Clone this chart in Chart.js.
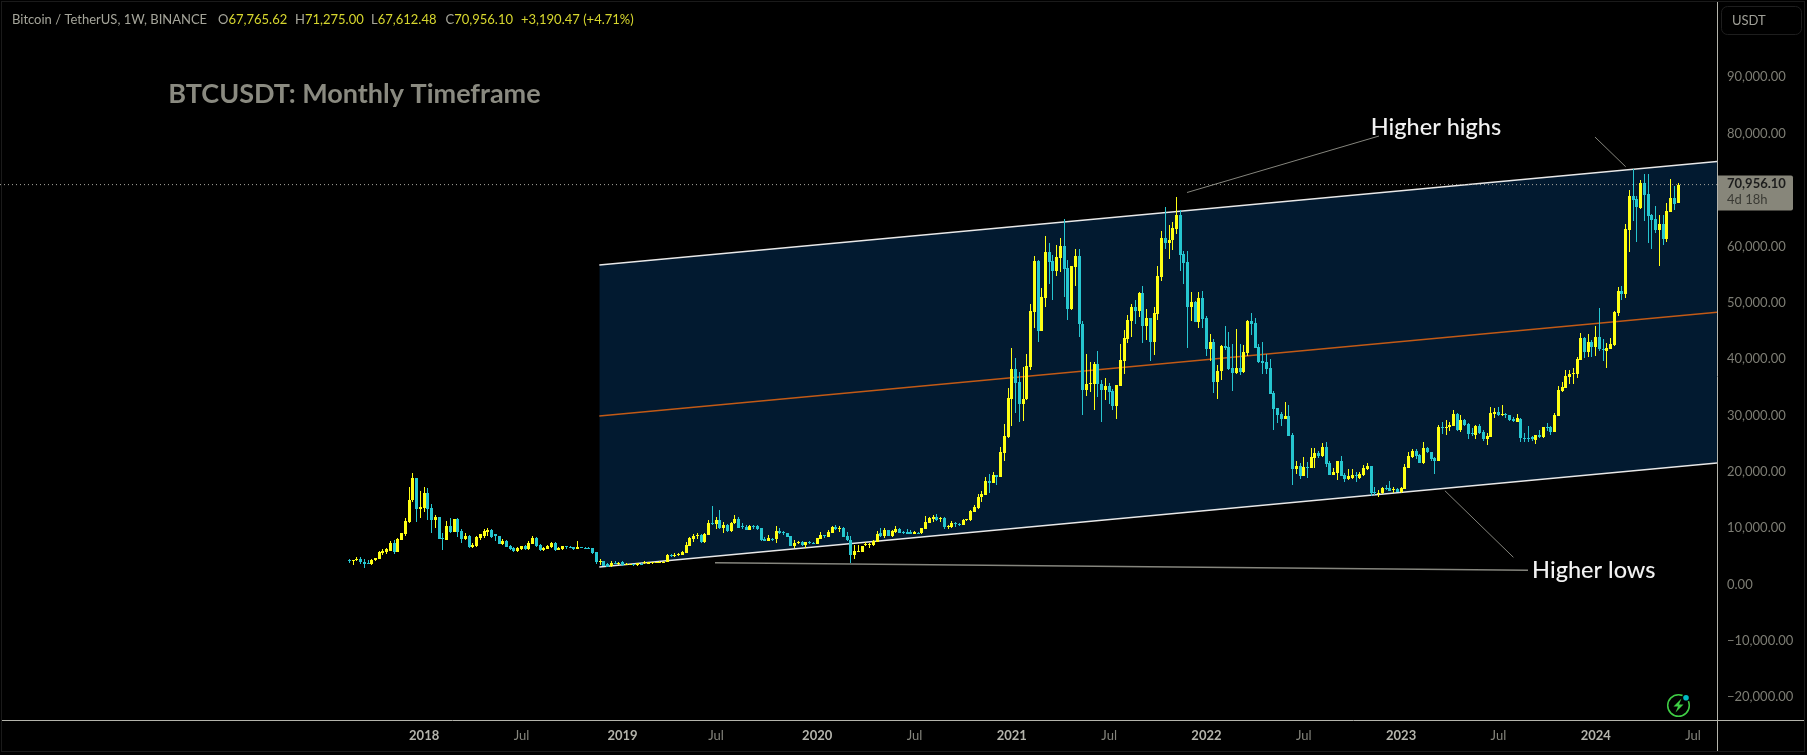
<!DOCTYPE html>
<html>
<head>
<meta charset="utf-8">
<title>BTCUSDT</title>
<script src="https://cdn.jsdelivr.net/npm/chart.js@4"></script>
<style>
  html, body { margin: 0; padding: 0; background: #000; overflow: hidden; }
  #wrap { position: absolute; left: 0; top: 0; width: 1807px; height: 755px; }
</style>
</head>
<body>
<div id="wrap"><canvas id="chart"></canvas></div>
<script>
// weekly candles, first bar is the week of 14 Aug 2017
const opens = [
  4300,4100,4300,4600,4040,3750,3650,4270,4570,5630,
  5700,5870,7350,5750,7880,8950,11080,14980,18830,13400,
  13500,16170,13500,11430,11910,8200,7880,10370,9360,11610,
  9480,8000,8590,6600,6820,8180,8590,9300,9660,8890,
  8590,7200,7710,6820,6460,5930,6290,6820,6290,7170,
  8240,7000,6170,6350,6640,7350,6110,6230,6820,6600,
  6640,6290,6640,6520,6500,6460,5750,3980,4100,3600,
  3200,3900,3700,3980,3550,3550,3620,3400,3680,3740,
  3680,3800,3880,3950,3980,4040,5220,5050,5220,5300,
  5600,6820,8100,8600,8800,7530,8800,10840,10700,11430,
  10000,10550,9480,10840,11610,10300,10130,9660,10310,10310,
  10020,8130,7770,8130,8000,9490,9250,9130,8600,6880,
  7360,7590,6940,7470,7420,7180,8070,8780,8480,9190,
  10200,9900,10000,8600,7950,5290,5760,5760,6950,6950,
  7000,7600,9070,8600,9660,8600,9310,9840,9310,9310,
  9250,9010,9190,9070,9840,10970,11620,11910,11680,11850,
  10260,10200,10970,10770,10550,11440,11440,12860,13600,15460,
  15870,18360,18000,19420,19070,23300,26200,32900,38240,35900,
  32000,33000,38600,48400,57400,45000,50900,59000,57400,55600,
  58000,60000,56100,48900,56400,58300,46300,34500,35600,35600,
  39100,35500,34500,35200,34300,31600,35200,39600,43500,46700,
  49200,48500,51700,45900,47200,43000,48000,54500,61500,60600,
  61100,63070,65560,58600,57200,49200,50100,46600,50800,47300,
  41800,43000,36000,37800,42300,42100,38400,37500,38400,37700,
  41000,46700,46400,42100,39600,39500,38400,34000,31300,30240,
  29350,29880,26510,20480,21010,19230,20830,20650,22430,23320,
  22780,24380,21540,19410,19770,21900,19410,18700,18880,19400,
  18880,19350,20480,21010,16390,16040,16220,17100,17100,16750,
  16930,16390,16930,20650,22610,23670,22960,21540,24200,23490,
  22430,21900,27930,27750,27930,28110,30240,27400,29170,28460,
  26800,26510,28110,27040,25740,26160,30240,30600,30060,30240,
  30060,29350,28820,29350,25980,25980,26100,25620,26510,26160,
  27930,27930,27040,29880,34320,34850,36800,37340,37340,39800,
  43700,41200,43000,42100,43900,41850,41450,41800,42500,48100,
  52000,51500,62900,68900,68400,66800,71200,69300,65500,64840,
  62900,63950,61300,66100,68600,67765.62
];
const highs = [
  4570,4400,4900,4850,4500,4300,4450,4750,5930,6230,
  6400,7650,7880,8180,9190,11730,17300,19720,18950,16580,
  17230,17200,14200,12320,11950,9070,11260,11730,11700,11730,
  9780,9070,8700,7410,8600,8950,9840,9950,9780,9010,
  8650,8000,7830,7050,6600,6700,6900,6950,7710,8590,
  8400,7100,6700,7000,7500,7530,6600,6850,6850,6750,
  6700,7710,6700,6600,6600,6500,5800,4510,4250,3750,
  4160,4250,4050,4100,3750,3720,3700,3850,3750,4200,
  3950,4000,4050,4100,4150,5350,5500,5600,5600,6000,
  7470,8420,9050,9100,9000,9070,11430,13900,11900,13200,
  11020,10700,11100,12320,11950,10850,10500,10500,10500,10500,
  10100,8400,8780,8300,10370,10080,9550,9200,8650,7890,
  7710,7650,7600,7650,7500,8300,9370,8850,9660,10300,
  10550,10400,10200,9310,8600,6990,6990,6900,7600,7400,
  7890,9490,10080,10020,9720,9650,10370,10080,9550,9840,
  9600,9490,9300,10020,12150,11980,12270,12500,12000,12030,
  10600,11260,11080,10900,11600,11700,13200,14100,16050,16590,
  19070,19600,19950,19420,24400,28500,34900,41960,40200,37700,
  38600,40900,49800,58300,57500,52600,61800,60600,58500,60200,
  61500,64850,57600,56600,59500,59500,46700,40900,39400,39400,
  41400,36270,36700,35680,34670,35400,42700,45100,47800,49700,
  50500,51900,52900,48900,47300,49200,56500,62800,66900,63800,
  64300,68800,66400,59200,59200,51900,50300,51900,52100,47600,
  44400,43500,38900,42500,45900,44800,42700,45300,42700,42500,
  46900,48200,47300,42700,43000,40900,40000,34300,31400,30600,
  32370,31840,26870,21900,21540,22610,21720,24200,24200,23670,
  25090,25270,21900,20650,21900,22780,19770,20480,20480,19940,
  19940,21190,21500,21100,17280,16750,17280,17640,18350,17280,
  17050,17280,21360,23490,24030,24030,23140,25270,24400,23600,
  22600,28290,28820,29170,28820,30950,30450,30060,29350,28640,
  27700,28230,28460,27400,26800,31480,31300,31480,31840,30420,
  30100,29710,30240,29530,26800,28110,26330,26510,27400,27930,
  28640,28110,30420,35200,35920,38050,38050,38400,40300,44600,
  44000,44400,43400,45800,49000,43500,42800,43700,48500,52800,
  52950,63950,70000,73700,68900,71800,72800,72800,65700,67150,
  65550,65500,67700,71900,70700,71275
];
const lows = [
  3740,3450,4200,3720,2900,3560,3450,4220,4500,5160,
  5450,5870,5400,5700,7880,8590,10950,14680,11140,11850,
  12900,11430,9100,10000,8000,6110,7880,9200,9300,8500,
  7410,7900,6500,6500,6700,7880,8180,8600,8180,7770,
  7200,7000,6600,6110,5750,5750,6100,6200,6200,7100,
  6700,5950,5930,6300,6500,6000,6050,6110,6290,6500,
  6200,6250,6450,6400,6300,5500,3650,3500,3300,3070,
  3100,3650,3500,3350,3450,3400,3350,3350,3550,3650,
  3650,3700,3850,3900,3900,4070,4900,4950,5000,5200,
  5550,6750,7530,7990,7450,7450,8750,10500,9800,9900,
  9190,9400,9400,10750,10000,9850,9600,9600,9800,9700,
  7700,7700,7650,7750,7300,8950,8720,8450,6850,6530,
  7120,6900,6470,7100,7100,7100,8050,8200,8400,9100,
  9650,9300,8450,7800,3870,4580,5700,5700,6820,6530,
  6820,7550,8480,8250,8600,8480,9190,9070,8950,9000,
  9000,8950,8900,9000,9800,10900,11100,11300,11100,9900,
  9840,10100,10260,10400,10500,11200,11300,12800,13450,14700,
  15870,16200,18000,17650,19070,21900,26000,28100,30400,28900,
  29100,32700,38000,45600,43000,45000,49200,53300,50500,54700,
  55500,51000,46900,48700,52900,43960,30000,33500,34200,30900,
  33300,28900,32700,32000,30900,29300,35200,37300,42800,43960,
  46300,47400,42900,43400,39700,40700,46900,53800,59500,57700,
  59300,62200,55700,53300,42000,46700,46600,45500,45600,40500,
  39600,34000,32900,36300,41600,38000,34300,37400,37200,37600,
  40500,44300,41900,39300,37300,37300,33800,27400,28600,28110,
  29350,26330,17640,19590,18700,19230,18880,20650,20650,22430,
  22600,20830,19410,19410,18520,19230,18170,18520,18800,18170,
  18800,19230,20300,15680,15860,15500,16040,16750,16570,16200,
  16390,16300,16930,20650,22430,22250,21540,21360,23300,22000,
  19590,21900,26690,26510,27200,28110,27200,27100,28110,25800,
  26330,25800,26690,25450,24740,26160,29530,29880,29880,29530,
  29000,28820,28820,25270,25270,25270,25500,24910,26000,25980,
  27200,26510,27040,29880,34140,34850,35500,35560,36630,39800,
  40200,40400,40400,40500,41400,39700,38500,41700,42300,47700,
  50500,50800,59000,64500,60800,66600,64500,60600,59500,62400,
  56500,60200,60800,66100,66400,67612.48
];
const closes = [
  4200,4300,4600,4000,3620,3650,4330,4630,5700,5870,
  6230,7350,5750,8060,9070,11260,14980,18830,13400,13680,
  16170,13400,11430,12030,8060,8180,10370,9360,11610,9360,
  8000,8590,6580,7000,8420,8890,9480,9660,8480,8590,
  7230,7770,6640,6290,5930,6460,6820,6290,7350,8240,
  6820,6110,6520,6820,7350,6110,6520,6820,6640,6520,
  6290,6640,6520,6400,6350,5520,3980,4160,3330,3090,
  3900,3680,3860,3390,3680,3650,3450,3800,3620,3980,
  3920,3920,4000,4000,4080,5220,5050,5300,5460,5800,
  7000,8240,8600,8700,7530,8950,10840,10750,11430,10000,
  10550,9480,10840,11610,10070,10130,9660,10370,10130,9840,
  7890,7770,8240,8070,9490,9190,9130,8480,6880,7300,
  7470,7000,7530,7360,7180,8240,8780,8600,9370,10200,
  9780,10000,8480,7950,5290,6000,5880,6880,7120,7180,
  7650,8950,8600,9660,8600,9550,9840,9190,9190,9010,
  9010,9370,9010,10020,11140,11850,12030,11500,11790,10260,
  10370,10910,10850,10600,11440,11620,12980,13750,15460,16100,
  18360,18000,19420,19070,23500,26340,33100,38240,35800,32000,
  33000,38750,48500,57400,45000,51000,59000,57300,55700,58100,
  60000,56000,48900,56500,58300,46300,34500,35600,35800,39100,
  35500,34500,35200,34100,31600,35400,39800,43700,46900,49200,
  48500,51700,45900,47200,43000,48100,54700,61500,60600,61200,
  63250,65560,58460,57000,49200,50100,46600,50800,47100,41800,
  43000,36000,37900,42300,42000,38200,37500,38400,37700,41200,
  46700,46200,41950,39500,39300,38200,33800,31100,30000,29350,
  29880,26330,20480,21010,19230,20830,20650,22610,23320,22780,
  24380,21360,19410,19940,21900,19230,18700,19230,19410,19230,
  19590,20650,21010,16220,16220,16160,17100,16930,16570,16930,
  16390,17100,20830,22780,23670,22780,21540,24200,23500,22250,
  21900,27870,27750,27930,28230,30240,27400,29170,28290,26690,
  26630,28110,26800,25740,26330,30360,30600,30060,30240,30060,
  29170,29000,29470,25980,25800,25800,25740,26510,26160,27930,
  27750,27040,30060,34500,35030,36980,37340,37520,40000,43700,
  41200,43000,42100,43900,41700,41700,41900,42600,48300,52000,
  51500,63000,68900,68200,67000,71200,69100,65400,64700,62900,
  63950,61300,66300,68600,67500,70956.1
];

const xTickWeeks = [20, 46, 73, 98, 125, 151, 177, 203, 229, 255, 281, 307, 333, 359];
const xTickLabels = ['2018', 'Jul', '2019', 'Jul', '2020', 'Jul', '2021', 'Jul', '2022', 'Jul', '2023', 'Jul', '2024', 'Jul'];
const yTicks = [-20000, -10000, 0, 10000, 20000, 30000, 40000, 50000, 60000, 70000, 80000, 90000];

// drawings on the chart: [start, end] in weeks and in price
const channelWeeks = [66.8, 365.4];
const channelTop = [56690, 75050];
const channelMiddle = [29890, 48300];
const channelBottom = [3100, 21560];
const highsNoteWeeks = [223.8, 275.1];
const highsNotePrices = [69554, 79578];
const peakNoteWeeks = [332.8, 341];
const peakNotePrices = [79400, 74130];
const lowsNoteWeeks = [97.7, 314.9];
const lowsNotePrices = [3870, 2520];
const lowNoteWeeks = [292.7, 311];
const lowNotePrices = [16640, 4830];

const noteTexts = ['BTCUSDT: Monthly Timeframe', 'Higher highs', 'Higher lows'];
const noteWeeks = [-48.4, 272.9, 316];
const notePrices = [87030, 81170, 2480];

const headerName = 'Bitcoin / TetherUS, 1W, BINANCE';
const lastPrice = closes[closes.length - 1];

const UP = '#ffff14';
const DOWN = '#26c6d0';
const weeks = opens.map((_, i) => i);
const candleColors = weeks.map(i => closes[i] >= opens[i] ? UP : DOWN);

function money(v) {
  const s = Math.abs(v).toLocaleString('en-US', { minimumFractionDigits: 2, maximumFractionDigits: 2 });
  return (v < 0 ? '\u2212' : '') + s;
}

function twoPoints(xs, ys) {
  return xs.map((x, i) => ({ x: x, y: ys[i] }));
}

function drawing(xs, ys, color, width, extra) {
  return Object.assign({
    type: 'line',
    data: twoPoints(xs, ys),
    borderColor: color,
    borderWidth: width,
    pointRadius: 0,
    fill: false,
    tension: 0,
    order: 3
  }, extra || {});
}

// bars land on whole pixels like the original candles do
const snapCandles = {
  id: 'snapCandles',
  afterDatasetsUpdate(chart) {
    chart.data.datasets.forEach((ds, idx) => {
      if (ds.type !== 'bar') return;
      chart.getDatasetMeta(idx).data.forEach(el => {
        el.x = Math.floor(el.x) + 0.5;
        el.y = Math.round(el.y);
        el.base = Math.round(el.base);
        if (Math.abs(el.base - el.y) < 1) el.base = el.y + 1;
        el.height = el.base - el.y;
      });
    });
  }
};

const chrome = {
  id: 'chrome',
  afterDraw(chart) {
    const ctx = chart.ctx;
    const x = chart.scales.x;
    const y = chart.scales.y;

    ctx.save();
    ctx.textBaseline = 'middle';
    ctx.textAlign = 'left';

    // notes on the chart
    ctx.fillStyle = '#8a8a80';
    ctx.font = 'bold 27px Lato';
    ctx.fillText(noteTexts[0], x.getPixelForValue(noteWeeks[0]), y.getPixelForValue(notePrices[0]));
    ctx.fillStyle = '#f2f2f2';
    ctx.font = '500 23.5px Lato';
    ctx.fillText(noteTexts[1], x.getPixelForValue(noteWeeks[1]), y.getPixelForValue(notePrices[1]));
    ctx.fillText(noteTexts[2], x.getPixelForValue(noteWeeks[2]), y.getPixelForValue(notePrices[2]));

    // header line
    ctx.font = '13px Lato';
    ctx.fillStyle = '#a5a59a';
    ctx.fillText(headerName, 12, 20);
    const head = [['O', '67,765.62', 218], ['H', '71,275.00', 295], ['L', '67,612.48', 371], ['C', '70,956.10', 445.5]];
    head.forEach(h => {
      ctx.fillStyle = '#a5a59a';
      ctx.fillText(h[0], h[2], 20);
      const w = ctx.measureText(h[0]).width;
      ctx.fillStyle = '#d6d62e';
      ctx.fillText(h[1], h[2] + w, 20);
    });
    ctx.fillStyle = '#d6d62e';
    ctx.fillText('+3,190.47 (+4.71%)', 521, 20);

    // frame and axis lines
    ctx.strokeStyle = '#1a1a1a';
    ctx.lineWidth = 1;
    ctx.strokeRect(1.5, 1.5, 1803, 750);
    ctx.strokeStyle = '#b4b4ac';
    ctx.beginPath();
    ctx.moveTo(1717.5, 2);
    ctx.lineTo(1717.5, 751);
    ctx.moveTo(2, 720.5);
    ctx.lineTo(1804, 720.5);
    ctx.stroke();

    // currency button
    ctx.strokeStyle = '#1e1e1e';
    ctx.beginPath();
    ctx.roundRect(1721.5, 6.5, 80, 28, 6);
    ctx.stroke();
    ctx.fillStyle = '#a0a098';
    ctx.font = '13px Lato';
    ctx.fillText('USDT', 1732, 21);

    // last price tag
    const tagY = y.getPixelForValue(lastPrice);
    ctx.fillStyle = '#87867a';
    ctx.beginPath();
    ctx.roundRect(1718, tagY - 9, 75, 35, [0, 2, 2, 0]);
    ctx.fill();
    ctx.fillStyle = '#1c1c1c';
    ctx.font = 'bold 13px Lato';
    ctx.fillText(money(lastPrice), 1727, tagY - 1);
    ctx.fillStyle = '#3a3a34';
    ctx.font = '13px Lato';
    ctx.fillText('4d 18h', 1727, tagY + 15);

    // green bolt badge
    ctx.strokeStyle = '#3fce45';
    ctx.lineWidth = 1.5;
    ctx.beginPath();
    ctx.arc(1678.5, 705.5, 10.8, 0, Math.PI * 2);
    ctx.stroke();
    ctx.fillStyle = '#3fce45';
    ctx.beginPath();
    ctx.moveTo(1681.5, 698.5);
    ctx.lineTo(1673.5, 706.5);
    ctx.lineTo(1678, 706.5);
    ctx.lineTo(1675.5, 712.5);
    ctx.lineTo(1683.5, 704.5);
    ctx.lineTo(1679, 704.5);
    ctx.closePath();
    ctx.fill();
    ctx.fillStyle = '#000';
    ctx.beginPath();
    ctx.arc(1686, 697.7, 4, 0, Math.PI * 2);
    ctx.fill();
    ctx.fillStyle = '#00bcc4';
    ctx.beginPath();
    ctx.arc(1686, 697.7, 2.8, 0, Math.PI * 2);
    ctx.fill();
    ctx.restore();
  }
};

new Chart(document.getElementById('chart'), {
  type: 'bar',
  data: {
    datasets: [
      {
        type: 'bar',
        data: weeks.map(i => ({ x: i, y: [Math.min(opens[i], closes[i]), Math.max(opens[i], closes[i])] })),
        backgroundColor: candleColors,
        barThickness: 3,
        inflateAmount: 0,
        grouped: false,
        order: 0
      },
      {
        type: 'bar',
        data: weeks.map(i => ({ x: i, y: [lows[i], highs[i]] })),
        backgroundColor: candleColors,
        barThickness: 1,
        inflateAmount: 0,
        grouped: false,
        order: 1
      },
      drawing(channelWeeks, [lastPrice, lastPrice], '#a8a8a0', 1, { data: twoPoints([-93.32, 365.4], [lastPrice, lastPrice]), borderDash: [1, 3], order: 2 }),
      drawing(channelWeeks, channelTop, '#e8e8e8', 1.5, { fill: '+2', backgroundColor: '#021a30' }),
      drawing(channelWeeks, channelMiddle, '#c25a16', 1.5),
      drawing(channelWeeks, channelBottom, '#e8e8e8', 1.5),
      drawing(highsNoteWeeks, highsNotePrices, '#85857d', 1),
      drawing(peakNoteWeeks, peakNotePrices, '#85857d', 1),
      drawing(lowsNoteWeeks, lowsNotePrices, '#85857d', 1.5),
      drawing(lowNoteWeeks, lowNotePrices, '#85857d', 1)
    ]
  },
  options: {
    responsive: true,
    maintainAspectRatio: false,
    animation: false,
    layout: { padding: { top: 3, left: 0, right: 0, bottom: 0 } },
    plugins: {
      legend: { display: false },
      tooltip: { enabled: false },
      filler: { drawTime: 'beforeDatasetsDraw' }
    },
    scales: {
      x: {
        type: 'linear',
        bounds: 'data',
        min: -93.32,
        max: 365.4,
        offset: false,
        grid: { display: false, drawTicks: false },
        border: { display: false },
        afterBuildTicks: scale => { scale.ticks = xTickWeeks.map(v => ({ value: v })); },
        afterFit: scale => { scale.height = 35; scale.paddingLeft = 0; scale.paddingRight = 0; },
        ticks: {
          autoSkip: false,
          maxRotation: 0,
          padding: 8,
          color: ctx => ctx.index % 2 === 0 ? '#b4b4ac' : '#85857d',
          font: ctx => ({ family: 'Lato', size: 13, weight: ctx.index % 2 === 0 ? 'bold' : 'normal' }),
          callback: v => xTickLabels[xTickWeeks.indexOf(v)]
        }
      },
      y: {
        type: 'linear',
        position: 'right',
        bounds: 'data',
        min: -24040,
        max: 103180,
        grid: { display: false, drawTicks: false },
        border: { display: false },
        afterBuildTicks: scale => { scale.ticks = yTicks.map(v => ({ value: v })); },
        afterFit: scale => { scale.width = 90; scale.paddingTop = 0; scale.paddingBottom = 0; },
        ticks: {
          crossAlign: 'near',
          padding: 10,
          color: '#7d7d74',
          font: { family: 'Lato', size: 13 },
          callback: v => money(v)
        }
      }
    }
  },
  plugins: [snapCandles, chrome]
});
</script>
</body>
</html>
